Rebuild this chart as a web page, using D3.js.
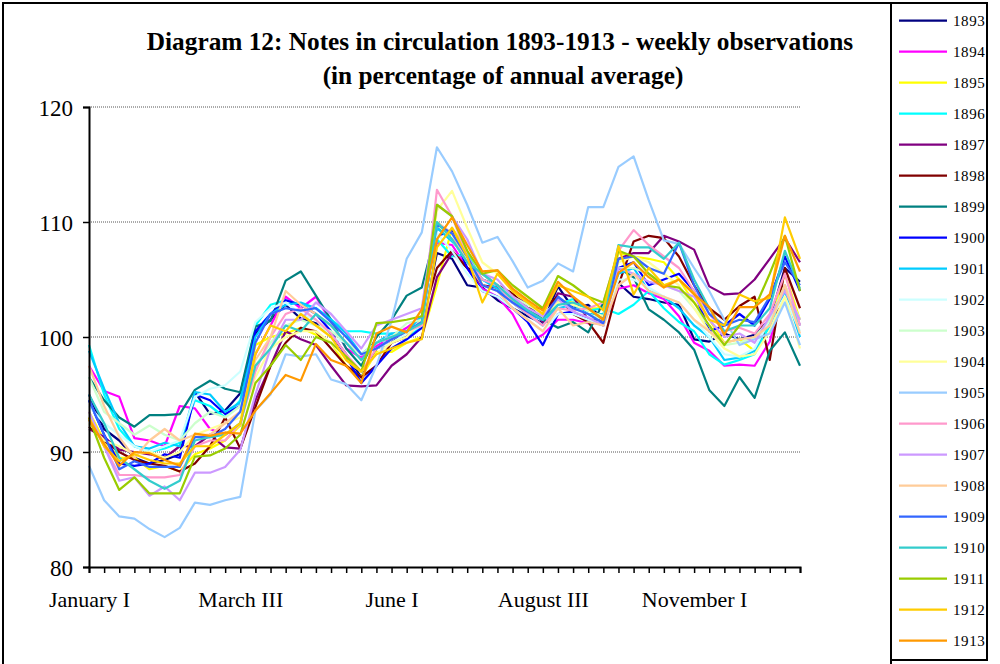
<!DOCTYPE html>
<html>
<head>
<meta charset="utf-8">
<script src="https://cdn.jsdelivr.net/npm/d3@7"></script>
<style>
  body { margin: 0; background: #fff; }
  svg { display: block; font-family: "Liberation Serif", "Times New Roman", serif; }
</style>
</head>
<body>
<div id="chart"></div>
<script>
// week labels: 12 months x 4 weeks
const months = ["January", "February", "March", "April", "May", "June", "July",
  "August", "September", "October", "November", "December"];
const weekNumerals = ["I", "II", "III", "IV"];
const weeks = months.flatMap(m => weekNumerals.map(w => m + " " + w));
const labelledWeeks = ["January I", "March III", "June I", "August III", "November I"];

const yTicks = [80, 90, 100, 110, 120];

const years = ["1893", "1894", "1895", "1896", "1897", "1898", "1899", "1900", "1901", "1902", "1903",
  "1904", "1905", "1906", "1907", "1908", "1909", "1910", "1911", "1912", "1913"];

const colors = ["#000080", "#FF00FF", "#FFFF00", "#00FFFF", "#800080", "#800000", "#008080",
  "#0000FF", "#00CCFF", "#CCFFFF", "#CCFFCC", "#FFFF99", "#99CCFF", "#FF99CC", "#CC99FF",
  "#FFCC99", "#3366FF", "#33CCCC", "#99CC00", "#FFCC00", "#FF9900"];

// notes in circulation, % of annual average, one value per week
const v1893 = [95, 92, 91, 89.5, 89, 89.3, 89.8, 95.2, 93.3, 93.6, 95.1, 100.3, 101.5, 102.8, 101.6, 101.2, 100.2, 98.5, 96.5, 99, 99.5, 100.5, 101, 107.3, 106.8, 104.5, 104.3, 103.2, 102.5, 101.8, 101.2, 104.4, 102.5, 102.8, 101.5, 104.7, 103.5, 103.3, 103, 102.8, 99.8, 99.6, 100.3, 99.8, 100.2, 101.5, 106, 104.8];
const v1894 = [97.5, 95.3, 94.8, 91.2, 91, 90.5, 94, 93.8, 92, 91.5, 92.3, 98.5, 101, 103.5, 102.5, 103.5, 101.3, 99, 98.2, 99.2, 100, 100.8, 101.8, 108.2, 108, 106, 104.2, 103.5, 102, 99.5, 100.2, 101.5, 101.5, 101.2, 101.2, 104.2, 104.5, 103.8, 103.3, 101.8, 99.5, 98.8, 97.5, 97.6, 97.5, 99.6, 104.5, 101];
const v1895 = [93.5, 91, 89.5, 89.5, 88.5, 88.8, 88.3, 89.8, 90.3, 91, 92.3, 99.3, 100, 100.3, 100.8, 100.2, 99.5, 97.5, 96.5, 98.7, 98.7, 99.5, 100, 104.5, 109.5, 107.5, 104.5, 104.3, 103.2, 102.3, 101.6, 103.2, 103, 102.5, 102.5, 107.3, 107, 106.8, 106.5, 105, 103, 101.5, 99.5, 99.8, 98.8, 101, 105.5, 101.5];
const v1896 = [99.3, 95, 92, 90.5, 90, 90.3, 90.8, 94.5, 94, 93, 94.5, 101, 102.8, 103.2, 102.8, 102.5, 101.5, 100.5, 100.5, 100.3, 100.3, 99.8, 101, 108.5, 107, 107.2, 105, 104.5, 103, 102, 101, 102.8, 103.3, 102.3, 102.5, 102, 102.8, 104, 102.5, 101.3, 100.5, 98.5, 97.6, 98, 98.5, 101, 104, 101];
const v1897 = [92, 91.3, 90.2, 90, 89.8, 89.5, 90.5, 90.5, 91.5, 90.4, 90.3, 94.5, 97.5, 100.5, 99.8, 99.3, 97.5, 95.8, 95.7, 95.8, 97.5, 98.5, 100, 105.2, 107.3, 106, 104.5, 104.3, 103.5, 103, 101.3, 103.8, 103.5, 101.5, 101.5, 106.8, 107.3, 107.3, 108.8, 108.3, 107.6, 104.4, 103.7, 103.8, 105, 106.8, 108.6, 106.5];
const v1898 = [92.2, 91, 90, 89.3, 89, 88.8, 88.3, 89, 90.5, 93, 90.3, 93.9, 97.5, 99.5, 100.8, 100.5, 99, 97.5, 96.5, 97.5, 99.5, 100, 101.5, 106, 107.5, 106, 105.5, 104.5, 103.8, 102.5, 102.5, 103.5, 102, 101.3, 99.5, 104.5, 108.3, 108.8, 108.6, 107, 104.5, 102.5, 101.5, 102.7, 103.5, 98, 106, 102.5];
const v1899 = [96.5, 94.5, 93, 92.2, 93.2, 93.2, 93.3, 95.4, 96.2, 95.5, 95.2, 100.9, 101.4, 104.9, 105.7, 103.6, 101.5, 99, 97.5, 100, 101.5, 103.6, 104.3, 109.5, 108.5, 106.5, 105, 104.5, 103.5, 102.5, 101.5, 100.8, 101.3, 100.4, 103, 106, 105.2, 102.4, 101.5, 100.4, 98.9, 95.4, 94, 96.5, 94.7, 98.8, 100.4, 97.5];
const v1900 = [94.5, 91.5, 89, 88.8, 89, 89.8, 89.5, 95, 94.5, 93.3, 94, 100.5, 102, 103.2, 102.8, 102, 100.5, 98.3, 96, 97.5, 99, 99.8, 100.8, 108.8, 109.2, 106, 104, 103.5, 102.5, 101.3, 99.3, 102, 102.2, 101.5, 101, 106, 106.5, 104.5, 105, 105.5, 104, 100.5, 101, 102, 101, 103.3, 107, 104];
const v1901 = [98.8, 95.5, 92.5, 90.5, 90.3, 90.8, 90.5, 95.2, 95, 93.5, 94.3, 100, 102, 102.8, 103, 102.5, 101.5, 100.3, 98.5, 99.5, 100.3, 100.5, 101.8, 109.5, 108.3, 107, 105, 104.2, 103, 102, 101.5, 102.5, 102.8, 102, 102, 105.5, 106, 104, 103.5, 102.5, 101, 100, 98, 98.2, 98.8, 101.5, 104, 100];
const v1902 = [94, 92.5, 91.5, 90.5, 90, 90.5, 91, 94.8, 95.5, 95.8, 97, 101.3, 102.5, 103, 102, 101.5, 100, 99.5, 98.5, 99, 99.5, 100.3, 101, 109, 107.5, 105.5, 104, 103.5, 102.5, 101.5, 100.5, 102, 102, 101.5, 101, 105, 105, 104.3, 103.5, 103, 101.5, 100, 98.5, 98.3, 99, 101.5, 103.5, 100.5];
const v1903 = [96.5, 93.5, 92.5, 91.5, 92.3, 91.5, 91, 92.5, 93.5, 93, 94, 97.5, 99.5, 101, 101.5, 101, 100.5, 99.5, 98.5, 99.5, 100, 101.2, 101.5, 109.8, 108.5, 106.5, 105.5, 104.5, 103.5, 102.8, 102, 103, 102.5, 102, 101.5, 106, 106, 105.5, 104.5, 104, 102.5, 101, 99.3, 99.5, 100, 101.5, 104.5, 101.5];
const v1904 = [92.5, 91, 90.5, 89.8, 90, 89.5, 90, 91.5, 92, 92.5, 93, 96.5, 99, 100, 100.5, 100.5, 99.5, 98, 97, 98.5, 99.5, 100, 101.5, 111, 112.7, 109.5, 106.5, 105.5, 104, 103, 102, 103, 102.8, 102.3, 101.8, 106.5, 107, 106.5, 105.5, 104.5, 102.5, 100.5, 99, 98.3, 98.5, 100.5, 103.5, 99];
const v1905 = [88.8, 85.8, 84.4, 84.2, 83.3, 82.6, 83.4, 85.6, 85.4, 85.8, 86.1, 93.6, 95, 98.5, 98.3, 98.5, 96.3, 95.9, 94.5, 97.5, 101.4, 106.8, 109.1, 116.5, 114.4, 111.5, 108.2, 108.7, 106.6, 104.3, 104.9, 106.4, 105.7, 111.3, 111.3, 114.8, 115.7, 111.9, 108.4, 108.1, 106, 104, 101.5, 99.3, 99.8, 100.3, 103, 99.3];
const v1906 = [93, 90.5, 88, 88, 87.8, 87.8, 88, 90.5, 91, 91, 92.5, 97, 100, 102, 102.5, 101.5, 100.3, 98.5, 97, 99, 99.8, 100.5, 101, 112.8, 110.5, 107, 105, 104.5, 103, 102, 101, 102.5, 102.3, 102.5, 103, 107.5, 109.3, 108, 107, 106, 104, 102, 100.5, 100.8, 100.3, 102, 105.5, 101];
const v1907 = [93.5, 90.5, 87.5, 87.8, 86.2, 87, 85.8, 88.2, 88.2, 88.7, 90.2, 95, 99, 101.5, 101.5, 103, 102, 100.5, 99, 101, 101.5, 102, 102.5, 111.5, 110.5, 108.5, 105.5, 105, 103.5, 102.5, 101.8, 103.3, 102.2, 101.7, 101, 106, 105.5, 104.8, 104.5, 104, 103.5, 101.5, 100, 100.3, 99.5, 101.8, 104, 101.5];
const v1908 = [97.5, 94, 91.3, 89.5, 91, 92, 91, 91.5, 91.5, 92.5, 93.5, 98, 100, 104, 102.8, 102, 101, 99.5, 98, 99.5, 100, 100.5, 101.2, 110, 109, 106.5, 104.5, 104, 102.5, 101.5, 100.5, 102.5, 101, 101.3, 101, 104.5, 105.5, 104, 103.5, 103, 101.5, 100.5, 99.5, 99.8, 100, 101, 104.5, 100.3];
const v1909 = [94.5, 91.5, 88.5, 89.2, 88.7, 88.7, 88.7, 91.3, 91.3, 92, 93.5, 99.5, 102, 102.5, 102.3, 102.5, 101.3, 100, 98.5, 99, 99.8, 100.5, 101.3, 109.8, 109, 107, 104.5, 104, 103, 102.2, 101.5, 103.5, 102.5, 102, 101.2, 106.8, 107, 106, 105.5, 108.2, 104.5, 102, 101, 101.5, 101.3, 103.5, 106.5, 104.5];
const v1910 = [95, 92.5, 89.5, 88.5, 87.5, 86.8, 87.5, 91, 91.3, 91.5, 92.5, 97.5, 99, 101, 100.5, 102, 101, 99.5, 98, 99.5, 100, 100.5, 101.2, 110, 108.5, 106.5, 105.5, 104.5, 103.3, 102.3, 101.5, 102.8, 103, 102.5, 101.5, 108, 107.8, 107.8, 106.8, 108.2, 105, 102.5, 100.5, 101, 101, 102.5, 107.5, 104.2];
const v1911 = [93, 89.5, 86.7, 87.8, 86.4, 86.4, 86.4, 89.6, 89.7, 90.3, 91.5, 96, 97.5, 99.3, 98, 100, 99.5, 98.3, 97, 101.2, 101.3, 101.5, 101.8, 111.5, 110.5, 107.5, 105.5, 105.8, 104.5, 103.5, 102.5, 105.3, 104.5, 103.5, 103, 107.5, 107, 105.5, 104.5, 104.3, 103, 101, 99.3, 101, 102.5, 105.5, 108.8, 104];
const v1912 = [93, 90.5, 89.2, 89.8, 89.3, 89, 89, 90.5, 90.5, 91.5, 92.5, 98.5, 101, 100.5, 102, 101, 100, 98, 97, 98.5, 99, 99.5, 99.8, 107.8, 109.5, 107, 103, 105.5, 104, 103, 102, 104.5, 104, 103.5, 102.3, 107.9, 103.7, 106, 104.5, 105, 103.8, 101.5, 101, 103.7, 103.1, 103.4, 110.4, 106.8];
const v1913 = [92.8, 90.7, 88.8, 90, 89.9, 89.3, 88.8, 91.6, 91.4, 91.7, 91.6, 93.6, 95.1, 96.7, 96.2, 99.4, 98, 97.5, 96, 100.3, 100.9, 100.4, 102.4, 108.5, 110.4, 108, 105.7, 105.8, 104.2, 103.2, 102.3, 104.8, 103.5, 102.5, 101.5, 105.6, 106.5, 105.2, 104.3, 105, 103.7, 102.6, 100.2, 102.6, 102.6, 103.7, 108.8, 105.7];

const seriesValues = [v1893, v1894, v1895, v1896, v1897, v1898, v1899, v1900, v1901, v1902, v1903,
  v1904, v1905, v1906, v1907, v1908, v1909, v1910, v1911, v1912, v1913];

const width = 1000, height = 664;
const plot = {left: 89, right: 800, top: 107, bottom: 567};

const svg = d3.select("#chart").append("svg")
  .attr("width", width)
  .attr("height", height);

svg.append("rect").attr("width", width).attr("height", height).attr("fill", "#fff");

// chart border
svg.append("rect")
  .attr("x", 3).attr("y", 3).attr("width", 888).attr("height", 700)
  .attr("fill", "none").attr("stroke", "#000").attr("stroke-width", 2);

// title
svg.append("text")
  .attr("x", 500).attr("y", 50)
  .attr("text-anchor", "middle")
  .attr("font-size", 25.3).attr("font-weight", "bold")
  .text("Diagram 12: Notes in circulation 1893-1913 - weekly observations");
svg.append("text")
  .attr("x", 503).attr("y", 84)
  .attr("text-anchor", "middle")
  .attr("font-size", 25.3).attr("font-weight", "bold")
  .text("(in percentage of annual average)");

const xScale = d3.scalePoint()
  .domain(weeks)
  .range([plot.left, plot.right]);

const yScale = d3.scaleLinear()
  .domain([80, 120])
  .range([plot.bottom, plot.top]);

// gridlines
svg.append("g")
  .selectAll("line")
  .data(yTicks.filter(t => t > 80))
  .enter()
  .append("line")
  .attr("x1", plot.left).attr("x2", plot.right)
  .attr("y1", d => yScale(d)).attr("y2", d => yScale(d))
  .attr("stroke", "#555").attr("stroke-width", 1)
  .attr("stroke-dasharray", "1,1");

// lines
let line = d3.line()
  .x((d, i) => xScale(weeks[i]))
  .y(d => yScale(d));

svg.append("g")
  .selectAll("path")
  .data(seriesValues)
  .enter()
  .append("path")
  .attr("fill", "none")
  .attr("stroke", (d, i) => colors[i])
  .attr("stroke-width", 2.2)
  .attr("stroke-linejoin", "round")
  .attr("d", line);

// axes
let yAxis = svg.append("g")
  .attr("transform", "translate(" + plot.left + ",0)")
  .call(d3.axisLeft(yScale).tickValues(yTicks).tickSize(6).tickPadding(10));

let xAxis = svg.append("g")
  .attr("transform", "translate(0," + plot.bottom + ")")
  .call(d3.axisBottom(xScale).tickSize(6).tickPadding(14)
    .tickFormat(d => labelledWeeks.includes(d) ? d : ""));

[xAxis, yAxis].forEach(ax => {
  ax.select(".domain").attr("stroke", "#000").attr("stroke-width", 2);
  ax.selectAll(".tick line").attr("stroke", "#000").attr("stroke-width", 1.5);
  ax.selectAll(".tick text")
    .attr("fill", "#000")
    .attr("font-family", "Liberation Serif, serif")
    .attr("font-size", 22);
});
yAxis.selectAll(".tick text").attr("dy", "0.35em").attr("font-size", 23);
xAxis.selectAll(".tick text").attr("dy", "0.9em");

// legend
let legend = svg.append("g");
legend.append("rect")
  .attr("x", 891).attr("y", 3).attr("width", 96).attr("height", 657)
  .attr("fill", "#fff").attr("stroke", "#000").attr("stroke-width", 2);

let legendItems = legend.selectAll(".item")
  .data(years)
  .enter()
  .append("g")
  .attr("class", "item")
  .attr("transform", (d, i) => "translate(0," + (20.7 + i * 31) + ")");

legendItems.append("line")
  .attr("x1", 899).attr("x2", 947)
  .attr("stroke", (d, i) => colors[i])
  .attr("stroke-width", 2.2);

legendItems.append("text")
  .attr("x", 953).attr("y", 5)
  .attr("font-size", 15)
  .attr("letter-spacing", 0.6)
  .text(d => d);
</script>
</body>
</html>
